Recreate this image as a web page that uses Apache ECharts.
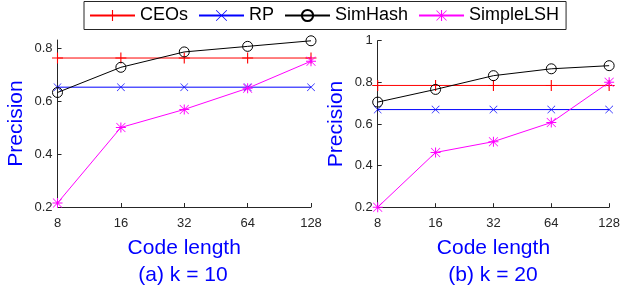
<!DOCTYPE html>
<html>
<head>
<meta charset="utf-8">
<script src="https://cdn.jsdelivr.net/npm/echarts@6/dist/echarts.min.js"></script>
<style>
  html, body { margin: 0; padding: 0; background: #fff; }
  #chart { width: 623px; height: 296px; }
</style>
</head>
<body>
<div id="chart"></div>
<script>
// code lengths (log2 spaced, so a category axis)
const codeLengths = ['8', '16', '32', '64', '128'];

// (a) k = 10
const ceosK10 = [0.762, 0.762, 0.762, 0.762, 0.762];
const rpK10 = [0.652, 0.652, 0.652, 0.652, 0.652];
const simHashK10 = [0.632, 0.727, 0.785, 0.806, 0.827];
const simpleLshK10 = [0.215, 0.50, 0.568, 0.648, 0.75];

// (b) k = 20
const ceosK20 = [0.785, 0.785, 0.785, 0.785, 0.785];
const rpK20 = [0.669, 0.669, 0.669, 0.669, 0.669];
const simHashK20 = [0.705, 0.766, 0.832, 0.865, 0.88];
const simpleLshK20 = [0.2, 0.463, 0.515, 0.607, 0.80];

const seriesNames = ['CEOs', 'RP', 'SimHash', 'SimpleLSH'];
const panelTitles = ['(a) k = 10', '(b) k = 20'];

// marker shapes (matlab style + x o *)
const PLUS = 'path://M9,0H11V20H9Z M0,9H20V11H0Z';
const CROSS = 'path://M1,0L10,9L19,0L20,1L11,10L20,19L19,20L10,11L1,20L0,19L9,10L0,1Z';
const STAR = 'path://M9,0H11V20H9Z M0,9H20V11H0Z M1.5,0.5L10,9L18.5,0.5L19.5,1.5L11,10L19.5,18.5L18.5,19.5L10,11L1.5,19.5L0.5,18.5L9,10L0.5,1.5Z';

const styles = {
  CEOs: { color: '#ff0000', symbol: PLUS, size: 11 },
  RP: { color: '#0000ff', symbol: CROSS, size: 8 },
  SimHash: { color: '#000000', symbol: 'circle', size: 10 },
  SimpleLSH: { color: '#ff00ff', symbol: STAR, size: 10 },
};

const chart = echarts.init(document.getElementById('chart'));

const axisColor = '#262626';
const blue = '#0000ff';
const fontFamily = '"Liberation Sans", Arial, sans-serif';

function makeSeries(name, data, idx) {
  const s = styles[name];
  const circle = s.symbol === 'circle';
  return {
    name,
    type: 'line',
    xAxisIndex: idx,
    yAxisIndex: idx,
    data,
    symbol: s.symbol,
    symbolSize: s.size,
    showAllSymbol: true,
    lineStyle: { color: s.color, width: 1 },
    // open circle: transparent fill, thin black edge
    itemStyle: circle
      ? { color: 'rgba(255,255,255,0)', borderColor: s.color, borderWidth: 1 }
      : { color: s.color, borderWidth: 0 },
    emphasis: { disabled: true },
    z: circle ? 3 : 2,
  };
}

function xAxisFor(idx) {
  return {
    type: 'category',
    gridIndex: idx,
    data: codeLengths,
    boundaryGap: false,
    name: 'Code length',
    nameLocation: 'middle',
    nameGap: 31,
    nameTextStyle: { color: blue, fontSize: 21, fontFamily },
    axisLine: { lineStyle: { color: axisColor, width: 1 } },
    axisTick: { inside: true, length: 4, alignWithLabel: true, lineStyle: { color: axisColor } },
    axisLabel: { color: axisColor, fontSize: 13, margin: 10, fontFamily },
    splitLine: { show: false },
  };
}

function yAxisFor(idx, max) {
  return {
    type: 'value',
    gridIndex: idx,
    min: 0.2,
    max,
    interval: 0.2,
    name: 'Precision',
    nameLocation: 'middle',
    nameGap: 31,
    nameTextStyle: { color: blue, fontSize: 21, fontFamily },
    axisLine: { show: true, lineStyle: { color: axisColor, width: 1 } },
    axisTick: { show: true, inside: true, length: 4, lineStyle: { color: axisColor } },
    axisLabel: { color: axisColor, fontSize: 13, margin: 5, fontFamily, showMaxLabel: max === 1 },
    splitLine: { show: false },
  };
}

const option = {
  animation: false,
  backgroundColor: '#ffffff',
  title: panelTitles.map((t, i) => ({
    text: t,
    left: i === 0 ? 183 : 493,
    top: 265,
    textAlign: 'center',
    padding: 0,
    textStyle: { color: blue, fontSize: 21, fontWeight: 'normal', fontFamily },
  })),
  legend: {
    data: seriesNames,
    left: 84,
    top: 1.5,
    padding: [5, 7, 5, 5],
    itemGap: 10,
    itemWidth: 45,
    itemHeight: 14,
    borderColor: axisColor,
    borderWidth: 1,
    backgroundColor: '#fff',
    textStyle: { fontSize: 18, color: '#000', fontFamily },
  },
  grid: [
    { left: 57.5, top: 40, width: 253.5, height: 167, containLabel: false },
    { left: 377.7, top: 40.7, width: 234, height: 166.5, containLabel: false },
  ],
  xAxis: [xAxisFor(0), xAxisFor(1)],
  yAxis: [yAxisFor(0, 0.83), yAxisFor(1, 1)],
  series: [
    makeSeries('CEOs', ceosK10, 0),
    makeSeries('RP', rpK10, 0),
    makeSeries('SimHash', simHashK10, 0),
    makeSeries('SimpleLSH', simpleLshK10, 0),
    makeSeries('CEOs', ceosK20, 1),
    makeSeries('RP', rpK20, 1),
    makeSeries('SimHash', simHashK20, 1),
    makeSeries('SimpleLSH', simpleLshK20, 1),
  ],
};

chart.setOption(option);
</script>
</body>
</html>
